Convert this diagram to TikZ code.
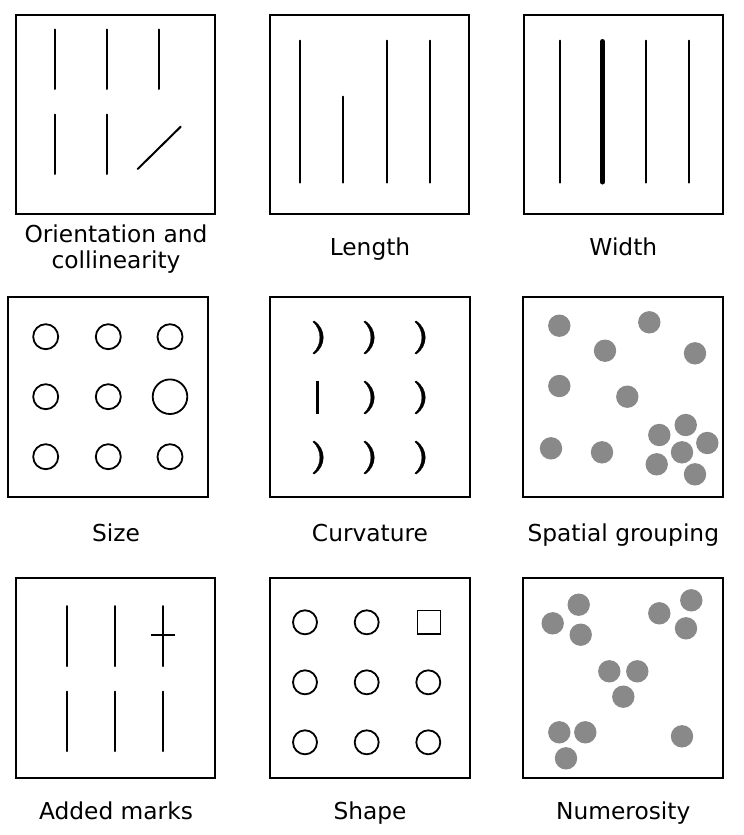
\documentclass[tikz,border=0pt]{standalone}
\usepackage{fontspec}
\setmainfont{DejaVu Sans}
\definecolor{dotgray}{RGB}{137,137,137}
\begin{document}
\begin{tikzpicture}[x=1bp,y=-1bp,
  panel/.style={draw=black,line width=2bp},
  stroke/.style={draw=black,line width=2bp,line cap=round},
  ring/.style={draw=black,line width=1.8bp},
  paren/.style={fill=black,draw=black,line width=0.3bp,line join=round},
  dot/.style={fill=dotgray},
  lab/.style={anchor=base,inner sep=0pt,font=\fontsize{23.4}{27}\selectfont}]
\useasboundingbox (0,0) rectangle (744,835);
% ---------- boxes
\draw[panel] (16,15) rectangle (215,214);
\draw[panel] (270,15) rectangle (469,214);
\draw[panel] (524,15) rectangle (723,214);
\draw[panel] (8,297) rectangle (208,497);
\draw[panel] (270,297) rectangle (470,497);
\draw[panel] (523,297) rectangle (723,497);
\draw[panel] (16,578) rectangle (215,778);
\draw[panel] (270,578) rectangle (470,778);
\draw[panel] (523,578) rectangle (723,778);
% ---------- orientation and collinearity
\foreach \x in {55,107,159} \draw[stroke] (\x,29.5) -- (\x,89);
\foreach \x in {55,107} \draw[stroke] (\x,114.5) -- (\x,174);
\draw[stroke] (137.7,169) -- (180.7,126.7);
% ---------- length
\foreach \x in {300,387,430} \draw[stroke] (\x,40.7) -- (\x,182.7);
\draw[stroke] (343,96.7) -- (343,182.7);
% ---------- width
\foreach \x in {560,646,689} \draw[stroke] (\x,40.7) -- (\x,182.7);
\draw[stroke,line width=5bp] (602.5,41.5) -- (602.5,182);
% ---------- size
\foreach \x in {45.7,108.3,170} \foreach \y in {336.7,456.7} \draw[ring] (\x,\y) circle (12.5bp);
\foreach \x in {45.7,108.3} \draw[ring] (\x,396.7) circle (12.5bp);
\draw[ring] (170,396.7) circle (17.3bp);
% ---------- curvature
\foreach \x/\y in {313.3/337.5,364.3/337.5,415.3/337.5,364.3/397.5,415.3/397.5,313.3/457.5,364.3/457.5,415.3/457.5}
  \draw[paren] (\x+1,\y-16.6) .. controls (\x+13,\y-8) and (\x+13,\y+8) .. (\x+1,\y+16.6)
    -- (\x-0.4,\y+15.8) .. controls (\x+8.9,\y+7.5) and (\x+8.9,\y-7.5) .. (\x-0.4,\y-15.8) -- cycle;
\fill[black] (316,381) rectangle (319.4,413.5);
% ---------- spatial grouping
\foreach \x/\y in {559.3/325.7,649.3/322.3,605/350.7,695/353.3,559.3/386,627.3/396.7,
  551/448.3,602/452.3,659.3/435,685.7/425,707.3/443,682/452.3,656.7/464.3,695/474.3}
  \fill[dot] (\x,\y) circle (11.2bp);
% ---------- added marks
\foreach \x in {67,115,163} {\draw[stroke] (\x,606) -- (\x,666); \draw[stroke] (\x,691.7) -- (\x,751);}
\draw[stroke,line cap=butt] (150.7,635) -- (175,635);
% ---------- shape
\foreach \x in {305,366.7,428.3} \foreach \y in {682.3,742.3} \draw[ring] (\x,\y) circle (12bp);
\foreach \x in {305,366.7} \draw[ring] (\x,622.3) circle (12bp);
\draw[ring] (417.5,610.5) rectangle (440.5,634);
% ---------- numerosity
\foreach \x/\y in {578.7/604.7,552.7/623.3,580.7/634.7,659.3/613.3,691.3/600.3,686/628.3,
  609.3/671.3,637.3/671.3,623.3/696.7,559.3/732.3,585.3/732.3,566/758.3,682/736.3}
  \fill[dot] (\x,\y) circle (11.2bp);
% ---------- labels
\node[lab] (l1a) at (116,242.3) {Orientation and};
\node[lab] (l1b) at (116,268.5) {collinearity};
\node[lab] (l2) at (370,255) {Length};
\node[lab] (l3) at (623.3,255) {Width};
\node[lab] (l4) at (116,541.7) {Size};
\node[lab] (l5) at (370,541.7) {Curvature};
\node[lab] (l6) at (623.3,541.7) {Spatial grouping};
\node[lab] (l7) at (116,819) {Added marks};
\node[lab] (l8) at (370,819) {Shape};
\node[lab] (l9) at (623.3,819) {Numerosity};
\end{tikzpicture}
\end{document}
